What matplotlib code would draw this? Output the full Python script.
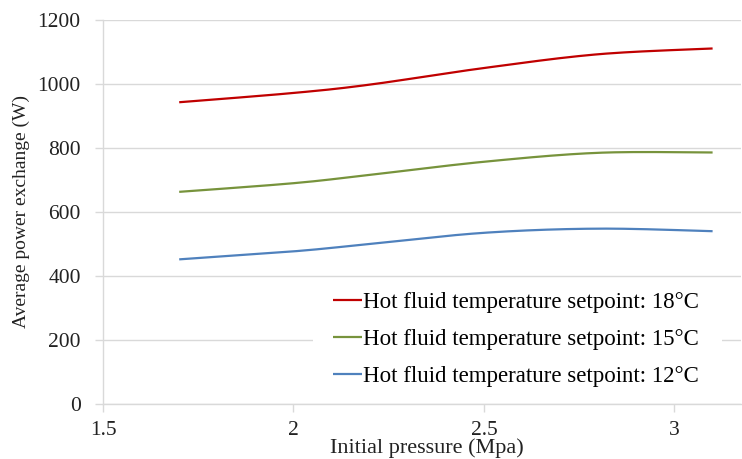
import numpy as np
import matplotlib
matplotlib.use("Agg")
import matplotlib.pyplot as plt
from matplotlib.patches import Rectangle

plt.rcParams['font.family'] = ['Liberation Serif', 'DejaVu Serif']

pressure = [1.7, 2.0, 2.2, 2.5, 2.8, 3.1]
power_18 = [943, 972, 998, 1050, 1093, 1111]
power_15 = [663, 690, 716, 757, 785, 786]
power_12 = [452, 477, 500, 535, 548, 540]
labels = ["Hot fluid temperature setpoint: 18°C",
          "Hot fluid temperature setpoint: 15°C",
          "Hot fluid temperature setpoint: 12°C"]
colors = ["#C00000", "#77933C", "#4F81BD"]
xticks = [1.5, 2, 2.5, 3]
xticklabels = ["1.5", "2", "2.5", "3"]
yticks = [0, 200, 400, 600, 800, 1000, 1200]


def smooth(x, y, n=30):
    # Excel-like Bezier smoothing of the drawn line between the data points
    x = np.asarray(x, float); y = np.asarray(y, float)
    P = np.column_stack([x, y])
    P = np.vstack([P[0], P, P[-1]])
    out = []
    t = np.linspace(0, 1, n)[:, None]
    for i in range(1, len(P) - 2):
        p0, p1, p2, p3 = P[i - 1], P[i], P[i + 1], P[i + 2]
        c1 = p1 + (p2 - p0) / 6
        c2 = p2 - (p3 - p1) / 6
        seg = ((1 - t) ** 3) * p1 + 3 * ((1 - t) ** 2) * t * c1 + 3 * (1 - t) * t ** 2 * c2 + t ** 3 * p2
        out.append(seg if i == 1 else seg[1:])
    out = np.vstack(out)
    return out[:, 0], out[:, 1]


W, H = 742, 459
fig = plt.figure(figsize=(W / 100, H / 100), dpi=100)
ax = fig.add_axes([103 / W, (H - 404) / H, (741 - 103) / W, (404 - 20) / H])

for ys, c, lab in zip([power_18, power_15, power_12], colors, labels):
    sx, sy = smooth(pressure, ys)
    ax.plot(sx, sy, color=c, lw=1.6, label=lab, solid_capstyle='butt', zorder=3)

ax.set_xlim(1.5, 1.5 + (741 - 103) / 381.0)
ax.set_ylim(0, 1200)
ax.set_xticks(xticks)
ax.set_xticklabels(xticklabels)
ax.set_yticks(yticks)
ax.grid(axis='y', color='#d9d9d9', lw=1.0)
ax.set_axisbelow(True)
for s in ['top', 'right']:
    ax.spines[s].set_visible(False)
for s in ['left', 'bottom']:
    ax.spines[s].set_color('#d9d9d9')
    ax.spines[s].set_linewidth(1.0)
    ax.spines[s].set_zorder(2.5)
ax.tick_params(axis='both', colors='#d9d9d9', length=6, width=1.0, labelcolor='#222222', labelsize=15.5)
ax.tick_params(axis='y', pad=10)
ax.tick_params(axis='x', pad=6)

ax.set_ylabel("Average power exchange (W)", fontsize=14, color='#222222')
ax.yaxis.set_label_coords(21 / W, (H - 212) / H, transform=fig.transFigure)
ax.yaxis.label.set_va('center')
ax.set_xlabel("Initial pressure (Mpa)", fontsize=16, color='#222222')
ax.xaxis.set_label_coords(427 / W, 1.5 / H, transform=fig.transFigure)
ax.xaxis.label.set_va('bottom')

# white backdrop behind the legend (hides the grid line there)
ax.add_patch(Rectangle((313 / W, (H - 398) / H), (722 - 313) / W, (398 - 284) / H,
                       transform=fig.transFigure, facecolor='white', edgecolor='none',
                       zorder=1, clip_on=False))

leg = ax.legend(loc='upper left', bbox_to_anchor=(333 / W, (H - 292) / H),
                bbox_transform=fig.transFigure, frameon=False, fontsize=16.5,
                handlelength=1.27, handletextpad=0.05, labelspacing=0.69,
                borderpad=0, borderaxespad=0)
leg.set_zorder(5)

fig.savefig("out.png", dpi=100, facecolor='white')
